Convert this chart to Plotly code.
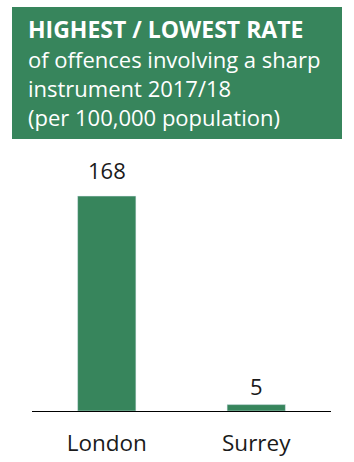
import plotly.graph_objects as go

categories = ["London", "Surrey"]
values = [168, 5]
header_bold = "HIGHEST / LOWEST RATE"
header_lines = ["of offences involving a sharp", "instrument 2017/18", "(per 100,000 population)"]

GREEN = "#37855C"
W, H = 354, 462
ML, MR, MT, MB = 32, 23, 150, 51
PW = W - ML - MR
PH = H - MT - MB
LABEL_SHIFTS = [9, 2]

def px_x(x):
    return (x - ML) / PW

def px_y(y):
    return (H - MB - y) / PH

fig = go.Figure(go.Bar(
    x=categories, y=values, marker_color=GREEN, width=0.39, hoverinfo="skip",
))

annotations = []
for c, v, s in zip(categories, values, LABEL_SHIFTS):
    annotations.append(dict(x=c, y=v, xref="x", yref="y", text=str(v), showarrow=False,
                            yanchor="bottom", yshift=s,
                            font=dict(family="Open Sans", size=22, color="#1a1a1a")))

annotations.append(dict(x=px_x(26), y=px_y(29), xref="paper", yref="paper", text="<b>" + header_bold + "</b>",
                        showarrow=False, xanchor="left", yanchor="middle",
                        font=dict(family="Open Sans", size=23, color="white")))
for i, line in enumerate(header_lines):
    annotations.append(dict(x=px_x(26), y=px_y(59 + 29 * i), xref="paper", yref="paper", text=line,
                            showarrow=False, xanchor="left", yanchor="middle",
                            font=dict(family="Open Sans", size=22, color="white")))

fig.update_layout(
    width=W, height=H,
    margin=dict(l=ML, r=MR, t=MT, b=MB, pad=0, autoexpand=False),
    paper_bgcolor="white", plot_bgcolor="white",
    showlegend=False,
    shapes=[dict(type="rect", xref="paper", yref="paper",
                 x0=px_x(12), x1=px_x(342), y0=px_y(139), y1=px_y(7),
                 fillcolor=GREEN, line=dict(width=0), layer="below")],
    annotations=annotations,
    xaxis=dict(showline=True, linecolor="black", linewidth=1, showgrid=False, zeroline=False,
               ticks="", tickfont=dict(family="Open Sans", size=22.5, color="#1a1a1a"),
               ticklabelstandoff=12, automargin=False),
    yaxis=dict(range=[0, 204], visible=False, showgrid=False, zeroline=False, automargin=False),
)

fig.write_html("out.html", config={"displayModeBar": False})
